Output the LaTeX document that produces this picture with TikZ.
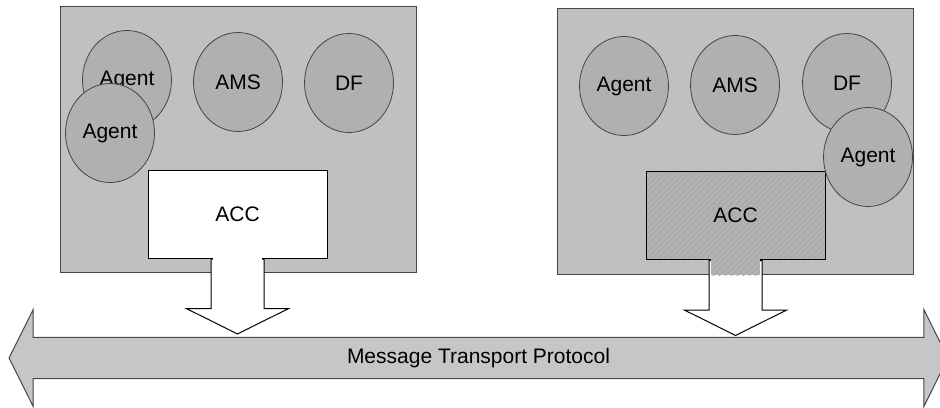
\documentclass[tikz,border=0pt]{standalone}
\usepackage{fontspec}
\setmainfont{Liberation Sans}
\usetikzlibrary{shapes.geometric, shapes.arrows, patterns, positioning}
\definecolor{platgray}{RGB}{192,192,192}
\definecolor{agentgray}{RGB}{176,176,176}
\definecolor{busgray}{RGB}{198,198,198}
\definecolor{accgray}{RGB}{178,178,178}
\definecolor{linegray}{RGB}{70,70,70}

\begin{document}
\begin{tikzpicture}[
    x=0.5pt, y=-0.5pt,
    font=\fontsize{10.5pt}{12pt}\selectfont,
    platform/.style={rectangle, draw=linegray, line width=0.5pt, fill=platgray,
                     minimum width=178pt, minimum height=133pt},
    agent/.style={ellipse, draw=linegray, line width=0.4pt, fill=agentgray,
                  minimum width=44.5pt, minimum height=49.5pt, inner sep=0pt},
    acc/.style={rectangle, draw=black, line width=0.5pt,
                minimum width=89.5pt, minimum height=44pt},
    accfill/.style={preaction={fill=accgray}, pattern=north east lines, pattern color=black!35},
    downarr/.style={single arrow, draw=black, line width=0.5pt, fill=white,
                    shape border rotate=270, minimum height=37.5pt, minimum width=50.5pt,
                    single arrow head extend=12.25pt, single arrow tip angle=127,
                    inner xsep=13pt, inner ysep=1pt},
    bus/.style={double arrow, draw=linegray, line width=0.5pt, fill=busgray,
                minimum height=469.5pt, minimum width=48.5pt,
                double arrow head extend=11.5pt, double arrow tip angle=127}
]
\useasboundingbox (0,0) rectangle (940,407);

\node[platform] (platL) at (238.5,139) {};
\node[platform] (platR) at (735,141) {};

\node[acc, fill=white] (accL) at (237.5,214) {ACC};
\node[acc, accfill] (accR) at (735.5,215.5) {ACC};

\node[bus] (mtp) at (478.5,358) {Message Transport Protocol};

\node[downarr, anchor=tail] (arrL) at (accL.south) {};
\node[downarr, anchor=tail] (arrR) at (accR.south) {};
\fill[white] ([xshift=-12.3pt, yshift=0.5pt]accL.south) rectangle ([xshift=12.3pt, yshift=0.3pt]accL.south |- platL.south);
\path[accfill] ([xshift=-12.3pt, yshift=0.5pt]accR.south) rectangle ([xshift=12.3pt, yshift=-0.3pt]accR.south |- platR.south);

\node[agent] (agL1) at (127,80) {Agent};
\node[agent] (amsL) at (238,82) {AMS};
\node[agent] (dfL) at (349,83) {DF};
\node[agent] (agL2) at (110,133) {Agent};

\node[agent] (agR1) at (624,86) {Agent};
\node[agent] (amsR) at (735,85) {AMS};
\node[agent] (dfR) at (847,83) {DF};
\node[agent] (agR2) at (868,157) {Agent};
\end{tikzpicture}
\end{document}
